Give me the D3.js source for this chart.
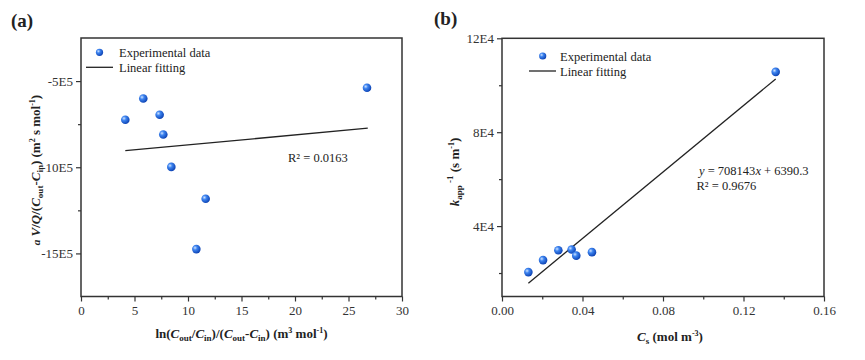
<!DOCTYPE html>
<html><head><meta charset="utf-8">
<script src="https://cdn.jsdelivr.net/npm/d3@7"></script>
<style>
body{margin:0;background:#fff;}
</style></head>
<body><svg id="c" width="865" height="360" font-family="'Liberation Serif', 'Times New Roman', serif"></svg>
<script>
// Panel (a) data
const aX = [4.14, 5.82, 7.35, 7.69, 8.44, 26.73, 11.65, 10.78];
const aY = [-7.24e5, -6.01e5, -6.95e5, -8.10e5, -9.98e5, -5.39e5, -11.83e5, -14.75e5];
const aFitX = [4.14, 26.8];
const aFitY = [-9.04e5, -7.73e5];
const aXTicks = [0, 5, 10, 15, 20, 25, 30];
const aYTicks = [-5e5, -10e5, -15e5];
const aYTickLabels = ["-5E5", "-10E5", "-15E5"];
// Panel (b) data
const bX = [0.0131, 0.0204, 0.0280, 0.0346, 0.0369, 0.0447, 0.136];
const bY = [2.04e4, 2.55e4, 2.97e4, 3.00e4, 2.74e4, 2.89e4, 10.57e4];
const bSlope = 708143, bIntercept = 6390.3;
const bFitX = [0.0131, 0.136];
const bXTicks = [0, 0.04, 0.08, 0.12, 0.16];
const bXTickLabels = ["0.00", "0.04", "0.08", "0.12", "0.16"];
const bYTicks = [4e4, 8e4, 12e4];
const bYTickLabels = ["4E4", "8E4", "12E4"];

const FONT = "'Liberation Serif', 'Times New Roman', serif";
const svg = d3.select("#c");
const defs = svg.append("defs");
const g = defs.append("radialGradient").attr("id","ball").attr("cx","35%").attr("cy","35%").attr("r","70%");
g.append("stop").attr("offset","0%").attr("stop-color","#cfe3ff");
g.append("stop").attr("offset","35%").attr("stop-color","#3d84f0");
g.append("stop").attr("offset","100%").attr("stop-color","#0a3fb0");

const axisColor = "#333";

function txt(sel){ return sel.append("text").attr("font-family",FONT).attr("fill","#222"); }

function panel(opt){
  const x = d3.scaleLinear().domain(opt.xDomain).range([opt.left, opt.right]);
  const y = d3.scaleLinear().domain(opt.yDomain).range([opt.bottom, opt.top]);
  const root = svg.append("g");
  root.append("rect").attr("x",opt.left).attr("y",opt.top)
    .attr("width",opt.right-opt.left).attr("height",opt.bottom-opt.top)
    .attr("fill","none").attr("stroke",axisColor).attr("stroke-width",1.5);
  const bx = d3.axisBottom(x).tickValues(opt.xTicks).tickSize(5).tickPadding(4)
    .tickFormat((d,i)=>opt.xTickLabels? opt.xTickLabels[i] : d);
  const gb = root.append("g").attr("transform",`translate(0,${opt.bottom})`).call(bx);
  const bxm = d3.axisBottom(x).tickValues(opt.xMinor).tickSize(3).tickFormat("");
  const gbm = root.append("g").attr("transform",`translate(0,${opt.bottom})`).call(bxm);
  const ly = d3.axisLeft(y).tickValues(opt.yTicks).tickSize(5).tickPadding(3)
    .tickFormat((d,i)=>opt.yTickLabels[i]);
  const gl = root.append("g").attr("transform",`translate(${opt.left},0)`).call(ly);
  const lym = d3.axisLeft(y).tickValues(opt.yMinor).tickSize(3).tickFormat("");
  const glm = root.append("g").attr("transform",`translate(${opt.left},0)`).call(lym);
  [gb,gbm,gl,glm].forEach(a=>{
    a.attr("font-family",FONT).attr("font-size",13);
    a.select(".domain").remove();
    a.selectAll("line").attr("stroke",axisColor).attr("stroke-width",1.2);
    a.selectAll("text").attr("fill","#333");
  });
  root.append("line").attr("x1",x(opt.fitX[0])).attr("y1",y(opt.fitY[0]))
    .attr("x2",x(opt.fitX[1])).attr("y2",y(opt.fitY[1]))
    .attr("stroke","#222").attr("stroke-width",1.3);
  root.selectAll("circle.pt").data(opt.px.map((v,i)=>[v,opt.py[i]])).enter()
    .append("circle").attr("class","pt").attr("cx",d=>x(d[0])).attr("cy",d=>y(d[1]))
    .attr("r",4.3).attr("fill","url(#ball)");
  root.append("circle").attr("cx",opt.legX).attr("cy",opt.legY).attr("r",3.6).attr("fill","url(#ball)");
  txt(root).attr("x",opt.legTX).attr("y",opt.legY+4.5).attr("font-size",12.5).text("Experimental data");
  root.append("line").attr("x1",opt.legLX1).attr("x2",opt.legLX2).attr("y1",opt.legY+15).attr("y2",opt.legY+15)
    .attr("stroke","#222").attr("stroke-width",1.3);
  txt(root).attr("x",opt.legTX).attr("y",opt.legY+19.5).attr("font-size",12.5).text("Linear fitting");
  txt(root).attr("x",opt.labX).attr("y",opt.labY).attr("font-size",19).attr("font-weight","bold").text(opt.label);
  return {x,y,root};
}

// Panel (a)
const A = panel({
  left:81, right:402, top:38, bottom:296.5,
  xDomain:[0,30], yDomain:[-17.5e5,-2.5e5],
  xTicks:aXTicks, xMinor:[2.5,7.5,12.5,17.5,22.5,27.5],
  yTicks:aYTicks, yTickLabels:aYTickLabels, yMinor:[-7.5e5,-12.5e5],
  px:aX, py:aY, fitX:aFitX, fitY:aFitY,
  legX:99.5, legY:52.3, legTX:119, legLX1:86, legLX2:113,
  labX:11, labY:27, label:"(a)"
});
txt(A.root).attr("x",288).attr("y",162).attr("font-size",12.5).text("R² = 0.0163");
{
  const t = txt(A.root).attr("x",241.5).attr("y",338).attr("text-anchor","middle")
    .attr("font-size",13).attr("font-weight","bold");
  t.append("tspan").text("ln(");
  t.append("tspan").attr("font-style","italic").text("C");
  t.append("tspan").attr("dy",3).attr("font-size",9).text("out");
  t.append("tspan").attr("dy",-3).text("/");
  t.append("tspan").attr("font-style","italic").text("C");
  t.append("tspan").attr("dy",3).attr("font-size",9).text("in");
  t.append("tspan").attr("dy",-3).text(")/(");
  t.append("tspan").attr("font-style","italic").text("C");
  t.append("tspan").attr("dy",3).attr("font-size",9).text("out");
  t.append("tspan").attr("dy",-3).text("-");
  t.append("tspan").attr("font-style","italic").text("C");
  t.append("tspan").attr("dy",3).attr("font-size",9).text("in");
  t.append("tspan").attr("dy",-3).text(") (m");
  t.append("tspan").attr("dy",-5).attr("font-size",8).text("3");
  t.append("tspan").attr("dy",5).text(" mol");
  t.append("tspan").attr("dy",-5).attr("font-size",8).text("-1");
  t.append("tspan").attr("dy",5).text(")");
}
{
  const t = txt(A.root).attr("transform","translate(40,170) rotate(-90)").attr("text-anchor","middle")
    .attr("font-size",13).attr("font-weight","bold");
  t.append("tspan").attr("font-style","italic").attr("font-size",11).text("a");
  t.append("tspan").attr("font-style","italic").text(" V");
  t.append("tspan").text("/");
  t.append("tspan").attr("font-style","italic").text("Q");
  t.append("tspan").text("/(");
  t.append("tspan").attr("font-style","italic").text("C");
  t.append("tspan").attr("dy",3).attr("font-size",9).text("out");
  t.append("tspan").attr("dy",-3).text("-");
  t.append("tspan").attr("font-style","italic").text("C");
  t.append("tspan").attr("dy",3).attr("font-size",9).text("in");
  t.append("tspan").attr("dy",-3).text(")  (m");
  t.append("tspan").attr("dy",-5).attr("font-size",8).text("2");
  t.append("tspan").attr("dy",5).text(" s mol");
  t.append("tspan").attr("dy",-5).attr("font-size",8).text("-1");
  t.append("tspan").attr("dy",5).text(")");
}

// Panel (b)
const B = panel({
  left:502, right:824, top:38.3, bottom:296.5,
  xDomain:[0,0.16], yDomain:[1e4,12e4],
  xTicks:bXTicks, xTickLabels:bXTickLabels, xMinor:[0.02,0.06,0.10,0.14],
  yTicks:bYTicks, yTickLabels:bYTickLabels, yMinor:[2e4,6e4,10e4],
  px:bX, py:bY, fitX:bFitX, fitY:bFitX.map(v=>bSlope*v+bIntercept),
  legX:542.7, legY:56, legTX:560, legLX1:529, legLX2:556,
  labX:434, labY:25, label:"(b)"
});
{
  const t = txt(B.root).attr("x",699).attr("y",175).attr("font-size",12.5);
  t.append("tspan").attr("font-style","italic").text("y");
  t.append("tspan").text("  = 708143");
  t.append("tspan").attr("font-style","italic").text("x");
  t.append("tspan").text(" + 6390.3");
  txt(B.root).attr("x",696.5).attr("y",190).attr("font-size",12.5).text("R² = 0.9676");
}
{
  const t = txt(B.root).attr("x",670).attr("y",341).attr("text-anchor","middle")
    .attr("font-size",13).attr("font-weight","bold");
  t.append("tspan").attr("font-style","italic").text("C");
  t.append("tspan").attr("dy",3).attr("font-size",9).text("s");
  t.append("tspan").attr("dy",-3).text(" (mol m");
  t.append("tspan").attr("dy",-5).attr("font-size",8).text("-3");
  t.append("tspan").attr("dy",5).text(")");
}
{
  const t = txt(B.root).attr("transform","translate(459,172) rotate(-90)").attr("text-anchor","middle")
    .attr("font-size",13).attr("font-weight","bold");
  t.append("tspan").attr("font-style","italic").text("k");
  t.append("tspan").attr("dy",3).attr("font-size",9).text("app");
  t.append("tspan").attr("dy",-9).attr("font-size",9).text(" -1");
  t.append("tspan").attr("dy",6).text(" (s m");
  t.append("tspan").attr("dy",-5).attr("font-size",8).text("-1");
  t.append("tspan").attr("dy",5).text(")");
}
</script></body></html>
